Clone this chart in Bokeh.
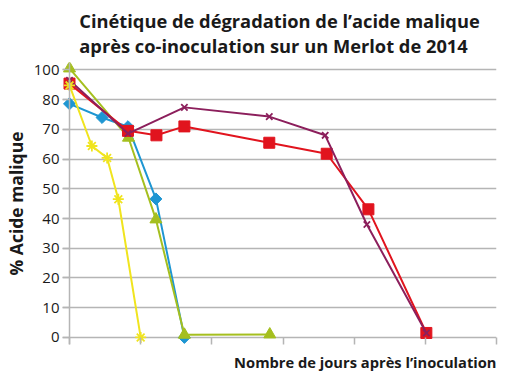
import math
from bokeh.plotting import figure
from bokeh.models import FixedTicker, Span, Title, Range1d
from bokeh.embed import file_html
from bokeh.resources import INLINE

# x in days (tick every 7 days, no tick labels); y in % (positional; top gridline labelled "100")
blue_x = [0, 3.2, 5.75, 8.5, 11.3]
blue_y = [78.6, 74.0, 70.9, 46.6, 0.0]

yellow_x = [0, 2.2, 3.7, 4.8, 7.0]
yellow_y = [84.8, 64.4, 60.4, 46.5, 0.0]

green_x = [0, 5.8, 8.5, 11.3, 19.7]
green_y = [90.5, 67.2, 39.7, 0.9, 1.0]

red_x = [0, 5.75, 8.55, 11.3, 19.65, 25.3, 29.4, 35.1]
red_y = [85.4, 69.5, 68.0, 71.0, 65.5, 61.8, 43.1, 1.5]

purple_x = [0, 5.75, 11.3, 19.65, 25.15, 29.25, 35.1]
purple_y = [86.5, 68.6, 77.4, 74.3, 68.0, 38.0, 1.5]

x_ticks = [0, 7, 14, 21, 28, 35, 42]
y_ticks = [0, 10, 20, 30, 40, 50, 60, 70, 80, 90]
y_labels = {90: "100"}

title_text = "Cinétique de dégradation de l’acide malique\naprès co-inoculation sur un Merlot de 2014"
x_label = "Nombre de jours après l’inoculation"
y_label = "% Acide malique"

FONT = "Open Sans"
TXT = "#1a1a1a"
GRID = "#b5b5b5"

p = figure(width=502, height=376, x_range=Range1d(-0.69, 42), y_range=Range1d(-2.38, 92.5),
           output_backend="svg", toolbar_location=None,
           min_border_left=55, min_border_right=6, min_border_top=0, min_border_bottom=0)
p.outline_line_color = None
p.background_fill_color = "white"

p.title.visible = False
p.add_layout(Title(text=title_text, align="center", offset=-6, text_font=FONT, text_font_size="18.3px",
                   text_font_style="bold", text_color=TXT, text_line_height=1.0, standoff=10), "above")

# axes
p.xaxis.ticker = FixedTicker(ticks=x_ticks)
p.xaxis.major_label_text_font_size = "0px"
p.xaxis.major_label_standoff = 0
p.xaxis.major_tick_in = 7
p.xaxis.major_tick_out = 0
p.xaxis.minor_tick_line_color = None
p.xaxis.axis_line_color = None
p.xaxis.major_tick_line_color = GRID
p.xaxis.major_tick_line_width = 1.5

p.add_layout(Title(text=x_label, align="right", text_font=FONT, text_font_size="14.7px",
                   text_font_style="bold", text_color=TXT, standoff=10), "below")

p.yaxis.ticker = FixedTicker(ticks=y_ticks)
p.yaxis.major_label_overrides = y_labels
p.yaxis.major_tick_in = 7
p.yaxis.major_tick_out = 0
p.yaxis.minor_tick_line_color = None
p.yaxis.axis_line_color = None
p.yaxis.major_tick_line_color = GRID
p.yaxis.major_tick_line_width = 1.5
p.yaxis.major_label_text_font = FONT
p.yaxis.major_label_text_font_size = "15px"
p.yaxis.major_label_text_color = TXT
p.yaxis.major_label_standoff = 3
p.yaxis.axis_label = y_label
p.yaxis.axis_label_text_font = FONT
p.yaxis.axis_label_text_font_size = "17.5px"
p.yaxis.axis_label_text_font_style = "bold"
p.yaxis.axis_label_text_color = TXT
p.yaxis.axis_label_standoff = 3

p.xgrid.grid_line_color = None
p.ygrid.ticker = FixedTicker(ticks=y_ticks)
p.ygrid.grid_line_color = GRID
p.ygrid.grid_line_width = 1.5

p.add_layout(Span(location=0, dimension="height", line_color=GRID, line_width=1.5))

# series
BLUE, GREEN, RED, PURPLE, YELLOW = "#1e96d2", "#a5bf1f", "#e1141e", "#8c1f5c", "#f0e41e"

p.line(blue_x, blue_y, line_color=BLUE, line_width=2)
p.scatter(blue_x, blue_y, marker="square", angle=math.pi / 4, size=8.5, fill_color=BLUE, line_color=BLUE)

p.line(green_x, green_y, line_color=GREEN, line_width=2)
p.scatter(green_x, green_y, marker="triangle", size=12, fill_color=GREEN, line_color=GREEN)

p.line(red_x, red_y, line_color=RED, line_width=2)
p.scatter(red_x, red_y, marker="square", size=11, fill_color=RED, line_color=RED)

p.line(purple_x, purple_y, line_color=PURPLE, line_width=2)
p.scatter(purple_x, purple_y, marker="x", size=9, line_color=PURPLE, line_width=1.8)

p.line(yellow_x, yellow_y, line_color=YELLOW, line_width=2)
p.scatter(yellow_x, yellow_y, marker="asterisk", size=11, line_color=YELLOW, line_width=1.8)

open("out.html", "w").write(file_html(p, INLINE))
